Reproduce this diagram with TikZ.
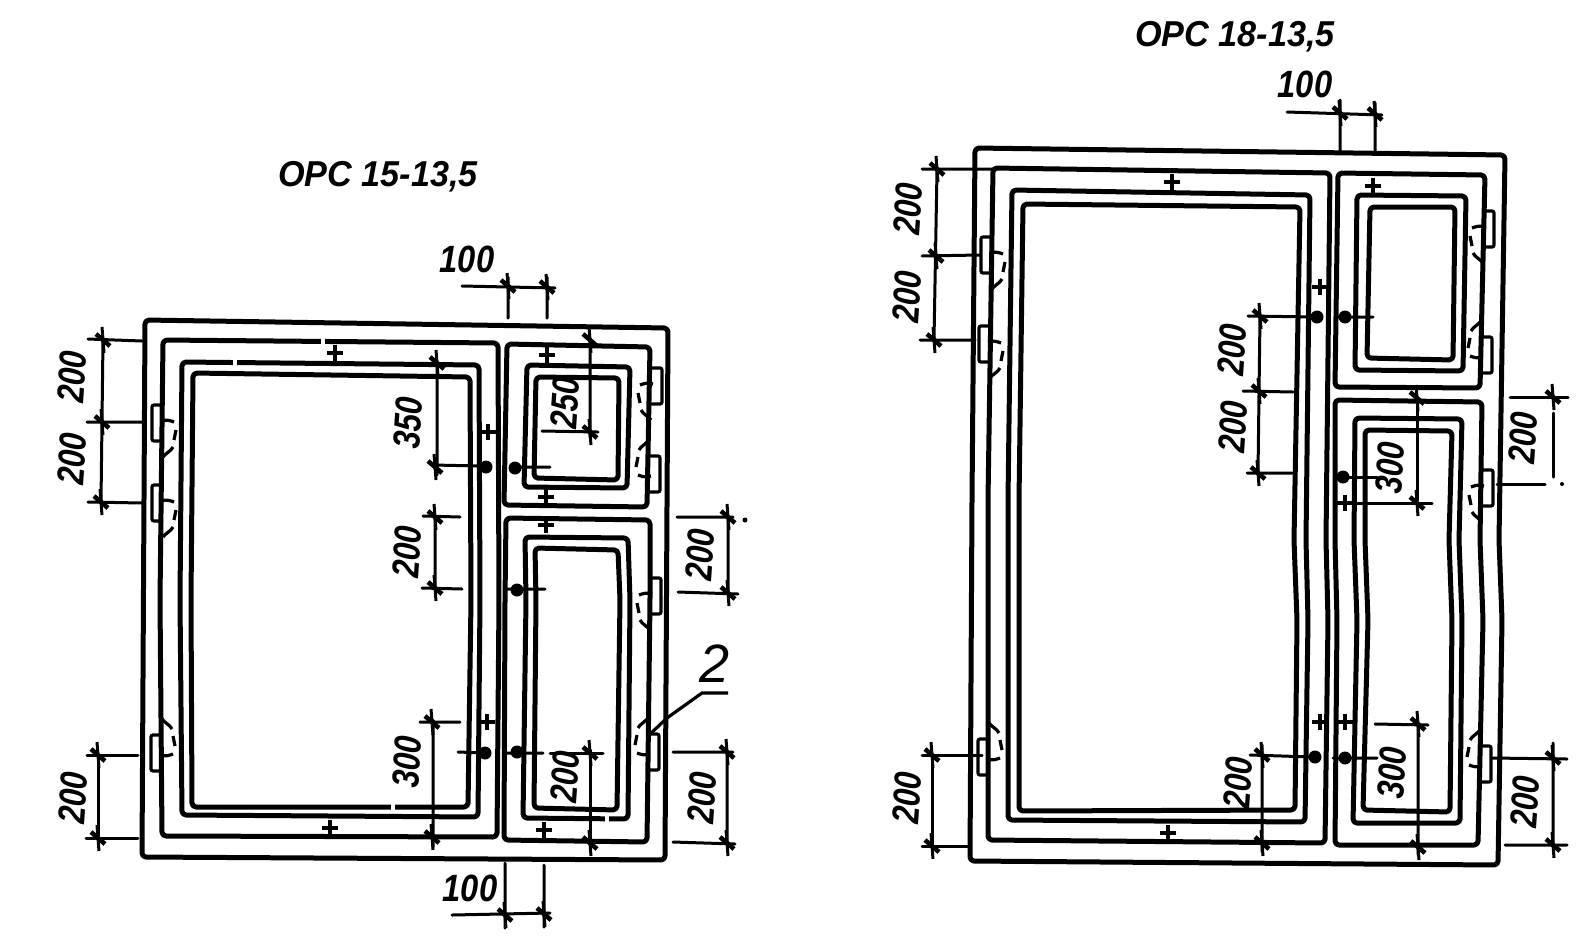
\documentclass[tikz,border=0pt]{standalone}
\usepackage{fontspec}
\setmainfont{Liberation Sans}
\newcommand{\tkm}[2]{\draw[ticka] (#1-1,#2-13) -- (#1+1,#2+13); \draw[tickb] (#1-7,#2-6) -- (#1+7,#2+6);}
\newcommand{\plm}[2]{\draw[plusm] (#1-8,#2) -- (#1+8,#2) (#1,#2-8) -- (#1,#2+8);}
\newcommand{\dotm}[2]{\fill (#1,#2) circle (6.5);}
\newcommand{\lugm}[4]{\begin{scope}[shift={(#1,#2)},xscale=#3,yscale=#4]
  \draw[lugline,rounded corners=2] (0,0) -- (-11,0) -- (-11,36) -- (0,36);
  \draw[lugline] (-2,16) .. controls (4,14) and (8,16) .. (11,17);
  \draw[lugline] (13,25) -- (11,35);
  \draw[lugline] (10,42) .. controls (8,46) and (3,48) .. (0,52);
\end{scope}}
\newcommand{\gapm}[2]{\fill[white] (#1-2,#2-5) rectangle (#1+2,#2+5);}
\newcommand{\vlab}[4]{\node[dimtxt,rotate=86] (#1) at (#2,#3) {\scalebox{.82}[1]{#4}};}
\newcommand{\hlab}[4]{\node[dimtxt] (#1) at (#2,#3) {\scalebox{.86}[1]{#4}};}
\begin{document}
\begin{tikzpicture}[x=1pt,y=-1pt,
  frameline/.style={line width=5pt,rounded corners=4pt,line join=round},
  dimline/.style={line width=3pt,line cap=round},
  ticka/.style={line width=3pt},
  tickb/.style={line width=4.6pt},
  plusm/.style={line width=3.2pt},
  lugline/.style={line width=3.2pt},
  dimtxt/.style={font=\fontsize{38}{38}\selectfont\itshape\bfseries,inner sep=0pt},
  titletxt/.style={font=\fontsize{36}{36}\selectfont\itshape\bfseries,inner sep=0pt}]
\useasboundingbox (0,0) rectangle (1579,946);
\fill[white] (0,0) rectangle (1579,946);

% ---------- left panel ----------
\node[titletxt] (t1) at (378,177) {\scalebox{.95}[1]{ОРС 15-13,5}};
\draw[frameline] (145,320) -- (668,328) -- (665,860) -- (142,857) -- cycle;
% large cell
\draw[frameline] (163,340) -- (498,343) -- (499,600) -- (497,837) -- (162,836) -- (160,600) -- cycle;
\draw[frameline] (182,362) -- (479,365) -- (480,600) -- (478,817) -- (182,815) -- (180,600) -- cycle;
\draw[frameline] (193,373) -- (470,377) -- (471,600) -- (468,807) -- (192,807) -- (191,600) -- cycle;
% upper right cell
\draw[frameline] (507,344) -- (650,347) -- (647,507) -- (504,505) -- cycle;
\draw[frameline] (527,365) -- (630,367) -- (627,488) -- (524,487) -- cycle;
\draw[frameline] (536,377) -- (619,378) -- (618,480) -- (534,478) -- cycle;
% lower right cell
\draw[frameline] (506,518) -- (650,520) -- (650,600) -- (647,842) -- (504,840) -- (505,600) -- cycle;
\draw[frameline] (525,537) -- (628,538) -- (630,600) -- (628,819) -- (523,818) -- (526,600) -- cycle;
\draw[frameline] (535,548) -- (618,550) -- (620,600) -- (617,810) -- (534,808) -- (536,600) -- cycle;
% small breaks in the printed lines
\gapm{323}{341} \gapm{235}{363} \gapm{393}{807} \gapm{607}{819}
% lugs
\lugm{163}{405}{1}{1}
\lugm{163}{485}{1}{1}
\lugm{162}{771}{1}{-1}
\lugm{651}{368}{-1}{1}
\lugm{649}{492}{-1}{-1}
\lugm{650}{578}{-1}{1}
\lugm{648}{770}{-1}{-1}
% plus marks
\plm{335}{353} \plm{488}{432} \plm{547}{355} \plm{546}{497} \plm{546}{525} \plm{487}{722} \plm{544}{830} \plm{330}{828}
% dots
\dotm{486}{467} \dotm{515}{468} \dotm{517}{590} \dotm{485}{753} \dotm{517}{752}
% dimensions
\draw[dimline] (88,339) -- (142,341) (87,422) -- (142,422) (88,502) -- (142,503) (103,340) -- (101,502);
\tkm{103}{340} \tkm{102}{422} \tkm{101}{502}
\vlab{a1}{72}{377}{200} \vlab{a2}{72}{459}{200}
\draw[dimline] (87,755) -- (138,755) (86,838) -- (138,838) (98,755) -- (98,838);
\tkm{98}{755} \tkm{98}{838}
\vlab{a3}{73}{798}{200}
\draw[dimline] (462,286) -- (555,288) (508,277) -- (508,318) (547,277) -- (547,318);
\tkm{508}{286} \tkm{547}{287}
\hlab{a4}{467}{259}{100}
\draw[dimline] (437,363) -- (437,475) (433,465) -- (480,466) (515,467) -- (550,467);
\tkm{437}{363} \tkm{435}{467}
\vlab{a5}{408}{423}{350}
\draw[dimline] (590,340) -- (590,437) (542,431) -- (598,432);
\tkm{590}{340} \tkm{590}{432}
\vlab{a6}{565}{403}{250}
\draw[dimline] (423,516) -- (460,517) (422,588) -- (462,589) (435,517) -- (435,588) (507,589) -- (545,589);
\tkm{435}{517} \tkm{435}{588}
\vlab{a7}{407}{552}{200}
\draw[dimline] (677,517) -- (733,517) (678,592) -- (738,594) (728,517) -- (728,592);
\tkm{728}{517} \tkm{728}{593}
\fill (745,520) circle (2.5);
\vlab{a8}{700}{555}{200}
\draw[dimline] (420,722) -- (460,722) (433,720) -- (433,847) (458,752) -- (485,753) (505,753) -- (543,753);
\tkm{432}{722} \tkm{432}{837}
\vlab{a9}{407}{762}{300}
\draw[dimline] (590,750) -- (590,850) (550,753) -- (603,753);
\tkm{590}{753} \tkm{590}{843}
\vlab{a10}{565}{777}{200}
\draw[dimline] (673,752) -- (733,752) (673,842) -- (735,844) (727,753) -- (727,843);
\tkm{727}{752} \tkm{727}{843}
\vlab{a11}{702}{798}{200}
\draw[dimline] (505,863) -- (505,928) (544,865) -- (544,927) (452,915) -- (550,913);
\tkm{505}{915} \tkm{544}{914}
\hlab{a12}{470}{888}{100}
\draw[line width=3.2pt] (728,693) -- (702,693) -- (667,718) -- (647,737);
\node[font=\fontsize{54}{54}\selectfont\itshape,inner sep=0pt] (lab2) at (715,664) {2};

% ---------- right panel ----------
\node[titletxt] (t2) at (1235,37) {\scalebox{.95}[1]{ОРС 18-13,5}};
\draw[frameline] (975,148) -- (1505,155) -- (1499,540) -- (1502,620) -- (1498,865) -- (970,861) -- (972,500) -- cycle;
% large cell
\draw[frameline] (993,168) -- (1330,173) -- (1326,540) -- (1328,620) -- (1325,843) -- (988,840) -- (988,500) -- cycle;
\draw[frameline] (1012,190) -- (1310,195) -- (1306,540) -- (1308,620) -- (1305,822) -- (1008,820) -- (1008,500) -- cycle;
\draw[frameline] (1023,204) -- (1300,207) -- (1294,540) -- (1297,620) -- (1295,810) -- (1019,811) -- (1019,500) -- cycle;
% upper right cell
\draw[frameline] (1338,173) -- (1485,175) -- (1480,388) -- (1335,387) -- cycle;
\draw[frameline] (1357,195) -- (1466,196) -- (1463,371) -- (1355,370) -- cycle;
\draw[frameline] (1370,207) -- (1455,207) -- (1453,360) -- (1367,358) -- cycle;
% lower right cell
\draw[frameline] (1335,400) -- (1482,402) -- (1480,540) -- (1483,620) -- (1478,845) -- (1335,845) -- (1337,620) -- (1335,540) -- cycle;
\draw[frameline] (1355,418) -- (1462,419) -- (1459,540) -- (1462,620) -- (1460,823) -- (1353,823) -- (1357,620) -- (1354,540) -- cycle;
\draw[frameline] (1365,430) -- (1452,431) -- (1449,540) -- (1452,620) -- (1450,812) -- (1363,810) -- (1368,620) -- (1365,540) -- cycle;
% lugs
\lugm{992}{237}{1}{1}
\lugm{990}{326}{1}{1}
\lugm{989}{775}{1}{-1}
\lugm{1483}{211}{-1}{1}
\lugm{1481}{373}{-1}{-1}
\lugm{1482}{470}{-1}{1}
\lugm{1480}{782}{-1}{-1}
% plus marks
\plm{1172}{182} \plm{1320}{287} \plm{1373}{186} \plm{1345}{503} \plm{1320}{722} \plm{1345}{722} \plm{1168}{833}
% dots
\dotm{1317}{317} \dotm{1345}{317} \dotm{1343}{477} \dotm{1315}{757} \dotm{1345}{758}
% dimensions
\draw[dimline] (1287,112) -- (1382,115) (1340,100) -- (1340,152) (1375,103) -- (1375,153);
\tkm{1340}{113} \tkm{1375}{114}
\hlab{b1}{1305}{84}{100}
\draw[dimline] (922,169) -- (993,169) (922,256) -- (980,255) (920,340) -- (975,340) (937,170) -- (934,340);
\tkm{937}{169} \tkm{936}{256} \tkm{934}{340}
\vlab{b2}{908}{209}{200} \vlab{b3}{907}{297}{200}
\draw[dimline] (922,755) -- (982,755) (922,846) -- (968,846) (932,755) -- (932,846);
\tkm{932}{755} \tkm{932}{846}
\vlab{b4}{907}{798}{200}
\draw[dimline] (1248,316) -- (1317,317) (1335,317) -- (1373,317) (1260,316) -- (1258,473) (1243,391) -- (1293,392) (1247,473) -- (1292,473);
\tkm{1260}{316} \tkm{1259}{391} \tkm{1258}{473}
\vlab{b5}{1232}{350}{200} \vlab{b6}{1233}{427}{200}
\draw[dimline] (1417,400) -- (1417,500) (1340,503) -- (1432,503) (1335,477) -- (1377,477);
\tkm{1417}{398} \tkm{1417}{503}
\vlab{b7}{1390}{468}{300}
\draw[dimline] (1510,397) -- (1568,397) (1553,413) -- (1553,477) (1497,484) -- (1545,484);
\tkm{1553}{397}
\fill (1562,484) circle (2);
\vlab{b8}{1523}{438}{200}
\draw[dimline] (1250,755) -- (1313,757) (1262,745) -- (1262,852);
\tkm{1262}{755} \tkm{1262}{843}
\vlab{b9}{1238}{783}{200}
\draw[dimline] (1333,758) -- (1377,758) (1375,724) -- (1428,725) (1418,725) -- (1418,855);
\tkm{1418}{724} \tkm{1418}{847}
\vlab{b10}{1392}{773}{300}
\draw[dimline] (1492,758) -- (1567,759) (1505,845) -- (1567,845) (1553,743) -- (1553,845);
\tkm{1553}{758} \tkm{1553}{845}
\vlab{b11}{1525}{802}{200}
\end{tikzpicture}
\end{document}
